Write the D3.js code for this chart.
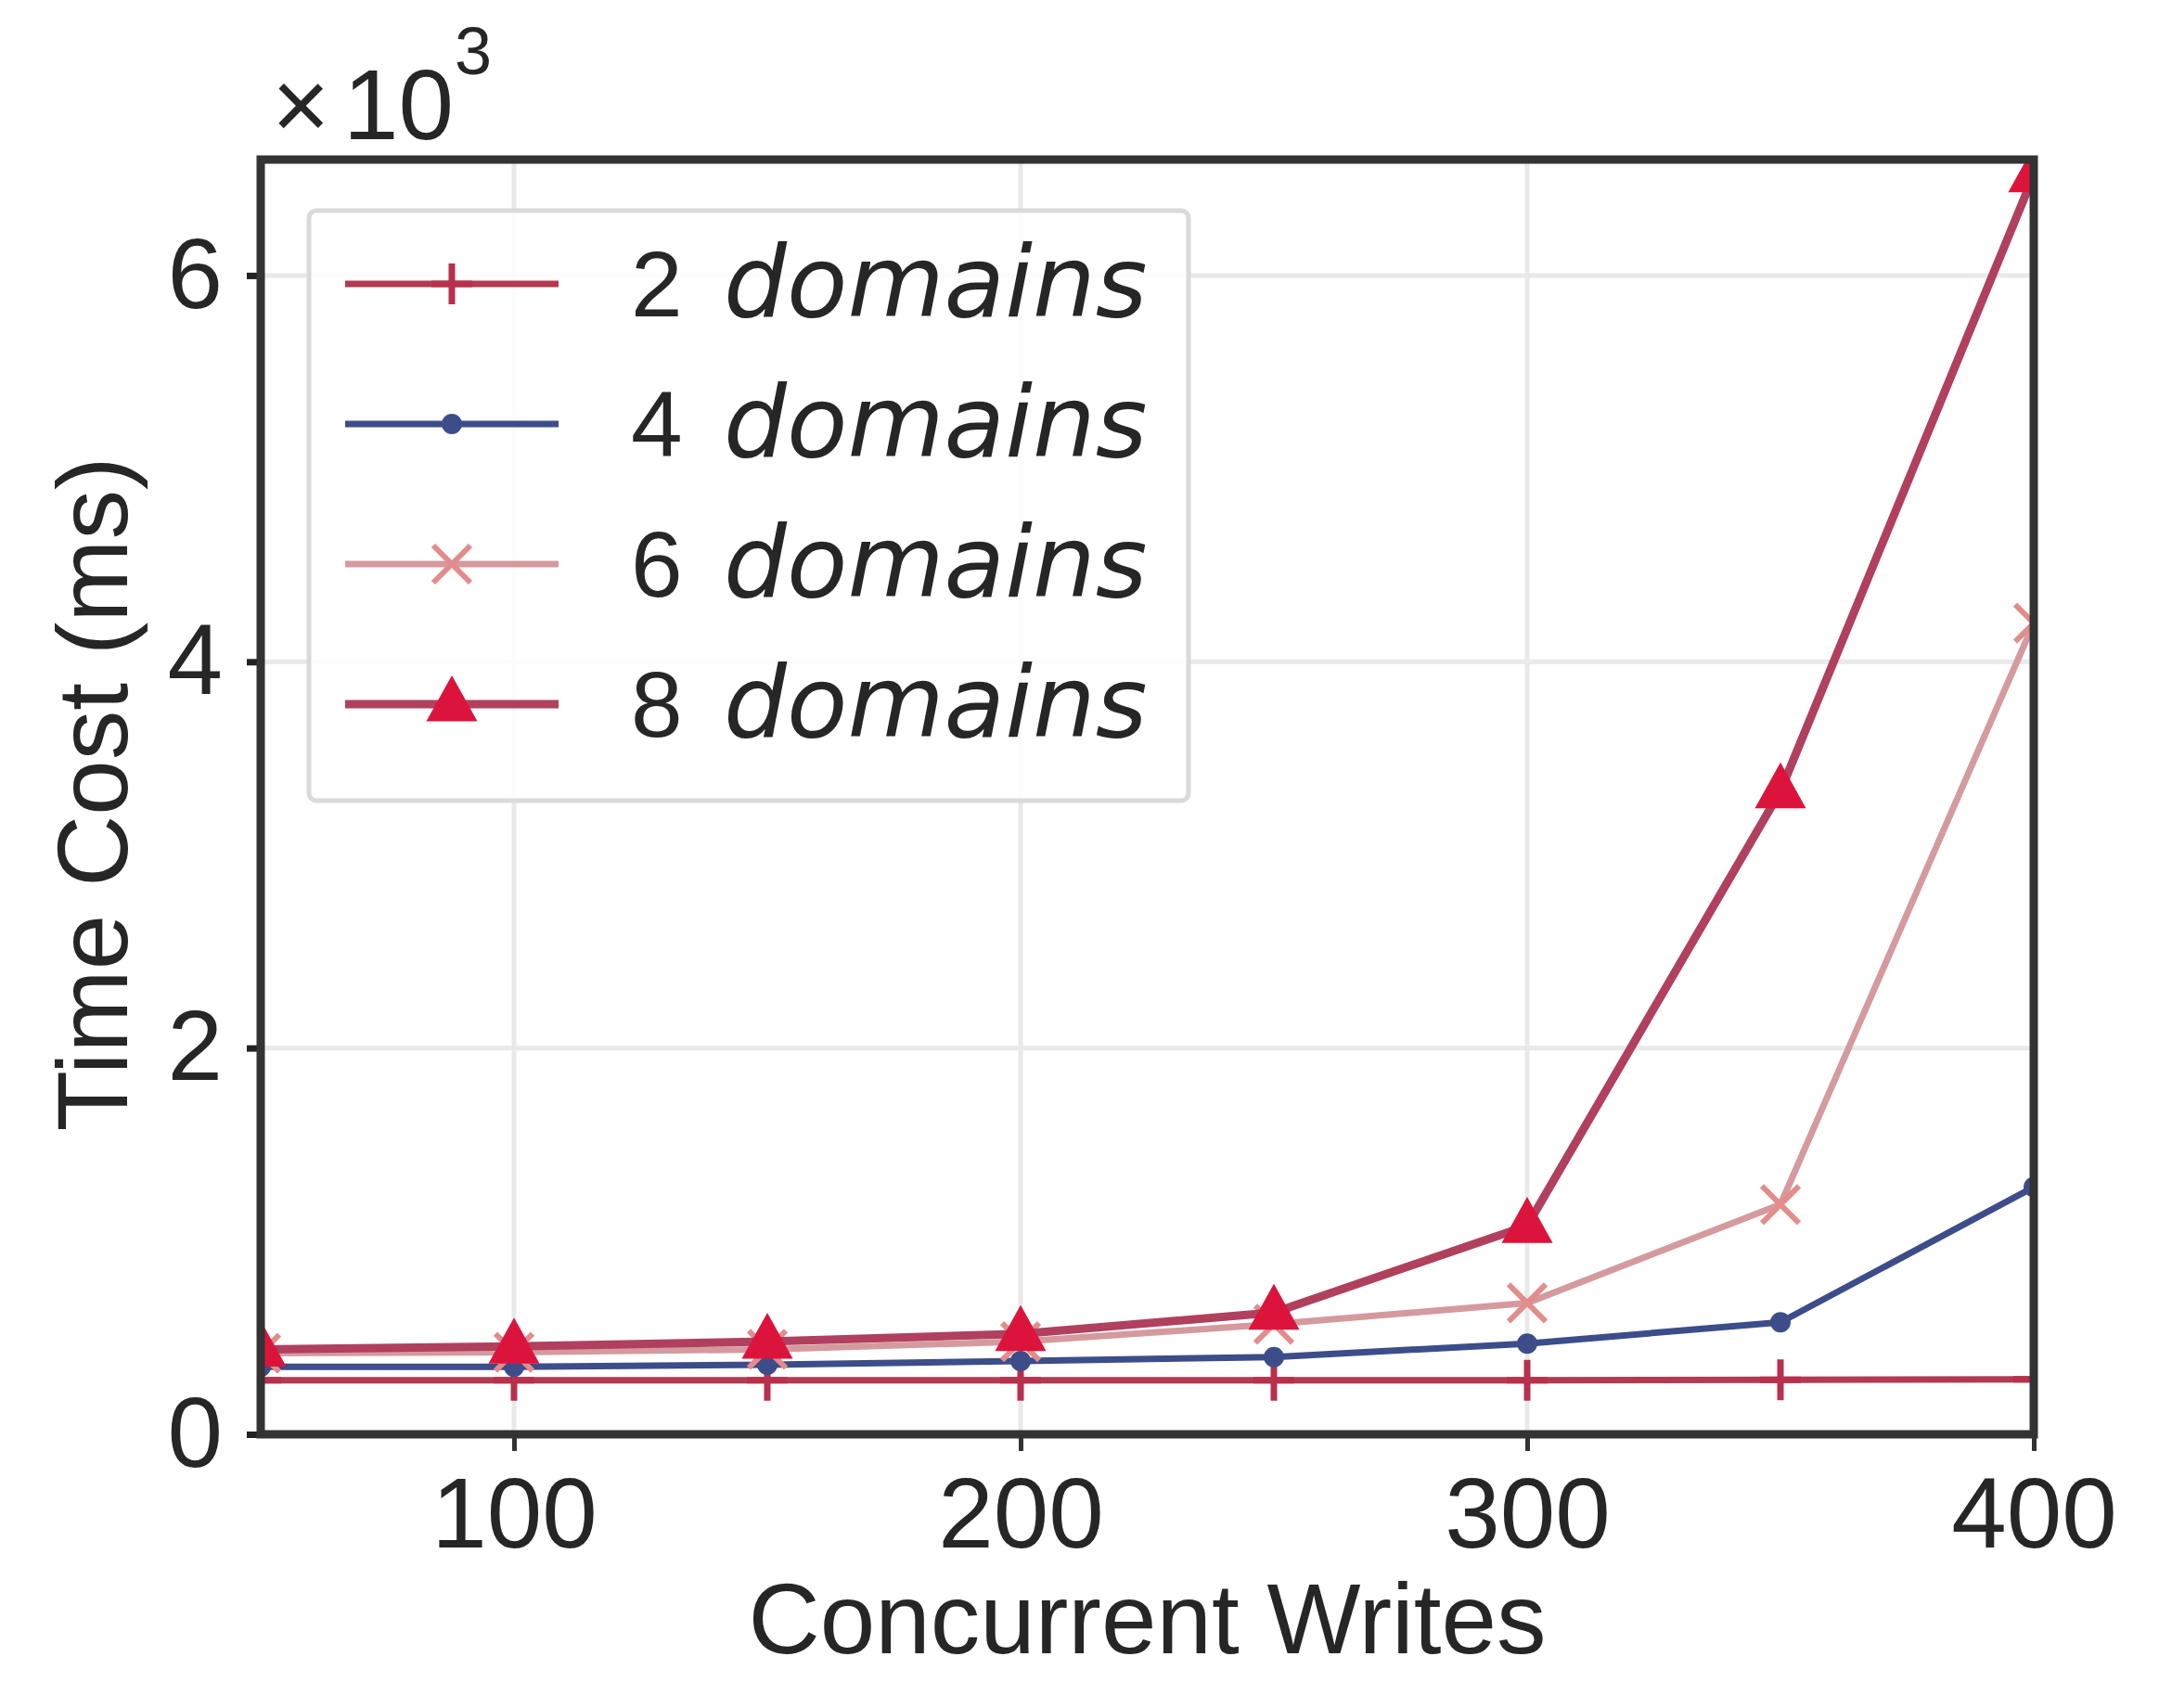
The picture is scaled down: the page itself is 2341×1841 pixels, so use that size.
<!DOCTYPE html>
<html>
<head>
<meta charset="utf-8">
<script src="https://cdn.jsdelivr.net/npm/d3@7"></script>
<style>
  body { margin: 0; background: #fff; }
</style>
</head>
<body>
<div id="chart"></div>
<script>
// data (ms)
const concurrentWrites = [50, 100, 150, 200, 250, 300, 350, 400];
const domains2 = [280, 280, 280, 280, 280, 280, 282, 285];
const domains4 = [350, 350, 360, 380, 400, 470, 580, 1280];
const domains6 = [420, 425, 440, 480, 570, 680, 1190, 4200];
const domains8 = [440, 455, 480, 520, 630, 1080, 3330, 6520];

const xTicks = [100, 200, 300, 400];
const yTicks = [0, 2000, 4000, 6000];
const yTickLabels = ["0", "2", "4", "6"];
const legendNumbers = ["2", "4", "6", "8"];

// taille
const width = 2341;
const height = 1841;
const plotLeft = 281, plotRight = 2192, plotTop = 172, plotBottom = 1546;

const svg = d3.select("#chart")
    .append("svg")
    .attr("width", width)
    .attr("height", height)
    .style("background", "#fff")

const x = d3.scaleLinear().domain([50, 400]).range([plotLeft, plotRight])
const y = d3.scaleLinear().domain([0, 6600]).range([plotBottom, plotTop])

svg.append("clipPath").attr("id", "clip")
    .append("rect")
    .attr("x", plotLeft).attr("y", plotTop)
    .attr("width", plotRight - plotLeft).attr("height", plotBottom - plotTop)

// grille
svg.append("g").selectAll("line").data(xTicks.slice(0, 3)).enter()
    .append("line")
    .attr("x1", d => x(d)).attr("x2", d => x(d))
    .attr("y1", plotTop).attr("y2", plotBottom)
    .attr("stroke", "#e9e9e9").attr("stroke-width", 5)

svg.append("g").selectAll("line").data(yTicks.slice(1)).enter()
    .append("line")
    .attr("x1", plotLeft).attr("x2", plotRight)
    .attr("y1", d => y(d)).attr("y2", d => y(d))
    .attr("stroke", "#e9e9e9").attr("stroke-width", 5)

// series
const series = [
  {name: "2", values: domains2, color: "#b23a52", marker: "plus", mcolor: "#b8304c", lw: 7},
  {name: "4", values: domains4, color: "#3c4d8a", marker: "dot", mcolor: "#3c4d8a", lw: 7},
  {name: "6", values: domains6, color: "#d49a9e", marker: "x", mcolor: "#e38c8c", lw: 7},
  {name: "8", values: domains8, color: "#b0405e", marker: "tri", mcolor: "#dc143c", lw: 9}
]

function drawMarker(g, type, color){
  if (type == "plus"){
    g.append("path").attr("d", "M-22,0H22M0,-22V22")
      .attr("stroke", color).attr("stroke-width", 7).attr("fill", "none")
  }
  else if (type == "dot"){
    g.append("circle").attr("r", 11).attr("fill", color)
  }
  else if (type == "x"){
    g.append("path").attr("d", "M-20,-20L20,20M-20,20L20,-20")
      .attr("stroke", color).attr("stroke-width", 6).attr("fill", "none")
  }
  else if (type == "tri"){
    g.append("path").attr("d", "M0,-28L25,17L-25,17Z")
      .attr("fill", color).attr("stroke", color).attr("stroke-width", 3)
  }
}

const plot = svg.append("g").attr("clip-path", "url(#clip)")

const line = d3.line()
    .x((d, i) => x(concurrentWrites[i]))
    .y(d => y(d))

series.forEach(function(s){
  plot.append("path")
      .datum(s.values)
      .attr("d", line)
      .attr("fill", "none")
      .attr("stroke", s.color)
      .attr("stroke-width", s.lw)
      .attr("stroke-linejoin", "round")

  s.values.forEach(function(v, i){
    let g = plot.append("g")
        .attr("transform", "translate(" + x(concurrentWrites[i]) + "," + y(v) + ")")
    drawMarker(g, s.marker, s.mcolor)
  })
})

// axes
const xAxis = svg.append("g")
    .attr("transform", "translate(0," + plotBottom + ")")
    .call(d3.axisBottom(x).tickValues(xTicks).tickSize(18).tickPadding(28).tickFormat(d3.format("d")))
xAxis.select(".domain").remove()
xAxis.selectAll(".tick line").attr("stroke", "#333").attr("stroke-width", 5)
xAxis.selectAll("text")
    .attr("font-family", "'Liberation Sans', Arial, sans-serif")
    .attr("font-size", 107)
    .attr("fill", "#262626")

const yAxis = svg.append("g")
    .attr("transform", "translate(" + plotLeft + ",0)")
    .call(d3.axisLeft(y).tickValues(yTicks).tickSize(15).tickPadding(26).tickFormat((d, i) => yTickLabels[i]))
yAxis.select(".domain").remove()
yAxis.selectAll(".tick line").attr("stroke", "#222").attr("stroke-width", 7)
yAxis.selectAll("text")
    .attr("font-family", "'Liberation Sans', Arial, sans-serif")
    .attr("font-size", 107)
    .attr("fill", "#262626")

// cadre
svg.append("rect")
    .attr("x", plotLeft).attr("y", plotTop)
    .attr("width", plotRight - plotLeft).attr("height", plotBottom - plotTop)
    .attr("fill", "none")
    .attr("stroke", "#333")
    .attr("stroke-width", 9)

// titres des axes
svg.append("text")
    .attr("x", (plotLeft + plotRight) / 2)
    .attr("y", 1782)
    .attr("text-anchor", "middle")
    .attr("font-family", "'Liberation Sans', Arial, sans-serif")
    .attr("font-size", 107)
    .attr("fill", "#262626")
    .text("Concurrent Writes")

svg.append("text")
    .attr("transform", "translate(137,856) rotate(-90)")
    .attr("text-anchor", "middle")
    .attr("font-family", "'Liberation Sans', Arial, sans-serif")
    .attr("font-size", 107)
    .attr("fill", "#262626")
    .text("Time Cost (ms)")

// x10^3
let offsetText = svg.append("text")
    .attr("x", 293)
    .attr("y", 150)
    .attr("font-family", "'Liberation Sans', Arial, sans-serif")
    .attr("font-size", 107)
    .attr("fill", "#262626")
offsetText.append("tspan").text("×")
offsetText.append("tspan").attr("x", 370).text("10")
offsetText.append("tspan").attr("x", 490).attr("y", 80).attr("font-size", 72).text("3")

// légende
svg.append("rect")
    .attr("x", 333).attr("y", 227)
    .attr("width", 948).attr("height", 636)
    .attr("rx", 8)
    .attr("fill", "#fff").attr("fill-opacity", 0.85)
    .attr("stroke", "#dadada").attr("stroke-width", 5)

series.forEach(function(s, i){
  let cy = 306 + i * 151
  let g = svg.append("g")
  g.append("line")
      .attr("x1", 372).attr("x2", 602)
      .attr("y1", cy).attr("y2", cy)
      .attr("stroke", s.color).attr("stroke-width", s.lw)
  let m = g.append("g").attr("transform", "translate(487," + cy + ")")
  drawMarker(m, s.marker, s.mcolor)

  g.append("text")
      .attr("x", 680).attr("y", cy + 35)
      .attr("font-family", "'Liberation Sans', Arial, sans-serif")
      .attr("font-size", 100)
      .attr("fill", "#262626")
      .text(legendNumbers[i])
  g.append("text")
      .attr("x", 780).attr("y", cy + 35)
      .attr("font-family", "'DejaVu Sans', sans-serif")
      .attr("font-style", "italic")
      .attr("font-size", 107)
      .attr("fill", "#262626")
      .text("domains")
})
</script>
</body>
</html>
